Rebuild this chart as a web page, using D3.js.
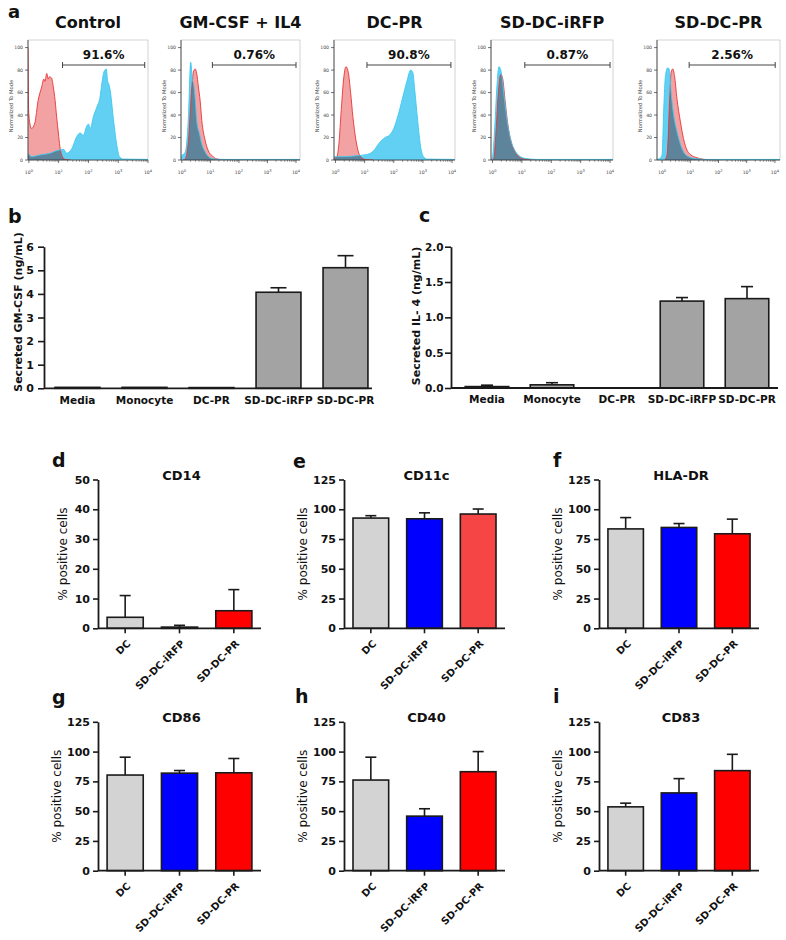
<!DOCTYPE html>
<html><head><meta charset="utf-8">
<script src="https://cdn.jsdelivr.net/npm/d3@7"></script>
<style>
body{margin:0;background:#fff}
svg text{font-family:"DejaVu Sans",Verdana,sans-serif;fill:#111}
</style>
</head><body>
<svg id="fig" width="786" height="940"></svg>
<script>
// ---------------- DATA ----------------
// Panel a: flow histograms (x = log10 fluorescence, y = % of mode)
const histTitles = ["Control", "GM-CSF + IL4", "DC-PR", "SD-DC-iRFP", "SD-DC-PR"];
const histPercents = ["91.6%", "0.76%", "90.8%", "0.87%", "2.56%"];
const gateStartLog = [1.13, 1.07, 1.08, 1.10, 0.96];
const gateEndLog = [3.89, 4.0, 3.96, 4.0, 4.01];
const histYTicks = [0, 20, 40, 60, 80, 100];
const histDecades = [0, 1, 2, 3, 4];

const redControl = [[-0.03,100],[-0.01,45],[0.03,33],[0.09,28],[0.2,33],[0.31,53],[0.43,65],[0.5,72],[0.54,70],[0.6,77],[0.65,72],[0.69,74],[0.76,73],[0.82,65],[0.88,53],[0.93,39],[0.99,24],[1.04,12],[1.10,4.5],[1.21,0.5],[1.4,0]];
const blueControl = [[-0.03,6],[0.09,3],[0.37,4.5],[0.71,6],[0.9,8],[1.04,9],[1.16,9.5],[1.27,6],[1.44,10],[1.61,21],[1.72,24],[1.83,22],[1.94,30],[2.0,32],[2.06,28],[2.17,39],[2.28,47],[2.39,56],[2.45,68],[2.53,79],[2.6,81],[2.64,71],[2.69,67],[2.73,62],[2.84,36],[2.96,12],[3.04,3],[3.18,0.8],[4.1,0.5]];
const redGM = [[0.05,0],[0.12,1],[0.23,17],[0.35,65],[0.41,79],[0.47,81],[0.52,77],[0.58,65],[0.64,53],[0.70,35],[0.82,17],[0.93,8],[1.05,4],[1.22,1],[1.4,0.3],[4.14,0.3]];
const blueGM = [[-0.03,3],[0.0,4],[0.12,7],[0.23,38],[0.31,87],[0.37,71],[0.41,68],[0.47,53],[0.52,35],[0.62,23],[0.7,14],[0.82,7],[0.93,3],[1.11,1],[1.57,0.5],[4.14,0.5]];
const redDCPR = [[-0.05,1],[0.05,3],[0.12,15],[0.2,45],[0.28,72],[0.36,83],[0.44,78],[0.52,60],[0.6,38],[0.7,18],[0.8,6],[0.9,2],[1.05,0.3],[1.3,0]];
const blueDCPR = [[-0.05,3],[0.3,3],[0.8,4],[1.1,5],[1.3,8],[1.5,15],[1.7,20],[1.85,22],[2.0,28],[2.15,40],[2.3,55],[2.45,70],[2.58,80],[2.65,78],[2.72,62],[2.82,35],[2.92,12],[3.02,3],[3.15,0.8],[4.1,0.5]];
const redIRFP = [[0.0,0],[0.05,2],[0.12,25],[0.2,60],[0.28,76],[0.35,72],[0.42,55],[0.52,32],[0.65,15],[0.8,6],[0.95,2],[1.2,0.5],[1.5,0]];
const blueIRFP = [[-0.05,1],[0.0,3],[0.08,30],[0.15,65],[0.22,83],[0.3,78],[0.38,60],[0.48,38],[0.6,20],[0.75,9],[0.9,4],[1.1,1.5],[1.5,0.5],[4.1,0.5]];
const redPR = [[0.1,0],[0.18,5],[0.27,54],[0.32,78],[0.38,81],[0.44,75],[0.53,54],[0.65,34],[0.76,19],[0.88,9],[1.0,5],[1.24,2],[1.59,0.3],[2.0,0]];
const bluePR = [[-0.18,0.5],[-0.05,2],[0.0,5],[0.06,46],[0.12,75],[0.2,82],[0.26,80],[0.32,60],[0.41,40],[0.53,25],[0.65,14],[0.82,5],[1.12,1.5],[1.59,0.5],[4.18,0.5]];
const redCurves = [redControl, redGM, redDCPR, redIRFP, redPR];
const blueCurves = [blueControl, blueGM, blueDCPR, blueIRFP, bluePR];

// Panels b, c: secreted cytokines
const secretionGroups = ["Media", "Monocyte", "DC-PR", "SD-DC-iRFP", "SD-DC-PR"];
const gmcsfMeans = [0.04, 0.04, 0.03, 4.07, 5.11];
const gmcsfErrors = [0, 0, 0, 0.19, 0.51];
const gmcsfTicks = [0, 1, 2, 3, 4, 5, 6];
const il4Means = [0.02, 0.045, 0, 1.23, 1.265];
const il4Errors = [0.02, 0.03, 0, 0.05, 0.17];
const il4Ticks = [0, 0.5, 1.0, 1.5, 2.0];

// Panels d-i: surface markers
const dcGroups = ["DC", "SD-DC-iRFP", "SD-DC-PR"];
const markerNames = ["CD14", "CD11c", "HLA-DR", "CD86", "CD40", "CD83"];
const cd14Means = [3.7, 0.4, 5.9],   cd14Errors = [7.3, 0.6, 7.1];
const cd11cMeans = [92.6, 92.0, 96.0], cd11cErrors = [2.0, 5.0, 4.2];
const hladrMeans = [83.5, 84.7, 79.4], hladrErrors = [9.5, 3.3, 12.3];
const cd86Means = [80.3, 81.9, 82.2], cd86Errors = [15.0, 2.2, 12.0];
const cd40Means = [76.1, 45.8, 83.1], cd40Errors = [19.2, 6.2, 16.9];
const cd83Means = [53.6, 65.3, 84.0], cd83Errors = [3.1, 12.0, 13.7];
const cd14Ticks = [0, 10, 20, 30, 40, 50];
const percentTicks = [0, 25, 50, 75, 100, 125];
const markerMeans = [cd14Means, cd11cMeans, hladrMeans, cd86Means, cd40Means, cd83Means];
const markerErrors = [cd14Errors, cd11cErrors, hladrErrors, cd86Errors, cd40Errors, cd83Errors];
const markerTicks = [cd14Ticks, percentTicks, percentTicks, percentTicks, percentTicks, percentTicks];

// ---------------- DRAWING ----------------
const svg = d3.select("#fig");
const FONT = '"DejaVu Sans",Verdana,sans-serif';

function letter(t, x, y, size) {
  svg.append("text").attr("x", x).attr("y", y).attr("font-size", size || 19).attr("font-weight", "bold").text(t);
}

// ---- Panel a ----
const histLayout = {
  left: [28, 181, 334, 491, 657],
  right: [148, 300, 455, 613, 780],
  xDomain: [[-0.03, 4.0], [-0.03, 4.14], [-0.05, 4.1], [-0.05, 4.1], [-0.18, 4.18]],
  top: 40, bottom: 160, y100: 47.6
};
letter("a", 8, 18, 18);

histTitles.forEach((title, i) => {
  const L = histLayout;
  const left = L.left[i], right = L.right[i];
  const x = d3.scaleLinear().domain(L.xDomain[i]).range([left, right]);
  const y = d3.scaleLinear().domain([0, 100]).range([L.bottom, L.y100]);
  const g = svg.append("g");

  g.append("text").attr("x", (left + right) / 2).attr("y", 28).attr("text-anchor", "middle")
    .attr("font-size", 16).attr("font-weight", "bold").text(title);

  g.append("rect").attr("x", left).attr("y", L.top).attr("width", right - left).attr("height", L.bottom - L.top)
    .attr("fill", "none").attr("stroke", "#c8c8c8").attr("stroke-width", 0.8);

  const cid = "hclip" + i;
  svg.append("clipPath").attr("id", cid).append("rect")
    .attr("x", left).attr("y", L.top).attr("width", right - left).attr("height", L.bottom - L.top);

  const area = d3.area().x(d => x(d[0])).y0(y(0)).y1(d => y(d[1])).curve(d3.curveMonotoneX);
  const line = d3.line().x(d => x(d[0])).y(d => y(d[1])).curve(d3.curveMonotoneX);
  const pg = g.append("g").attr("clip-path", `url(#${cid})`).style("isolation", "isolate");
  pg.append("path").datum(redCurves[i]).attr("d", area).attr("fill", "#f2a2a2");
  pg.append("path").datum(blueCurves[i]).attr("d", area).attr("fill", "#62d0f2").style("mix-blend-mode", "multiply");
  pg.append("path").datum(redCurves[i]).attr("d", line).attr("fill", "none").attr("stroke", "#ea3434").attr("stroke-width", 0.9);
  pg.append("path").datum(blueCurves[i]).attr("d", line).attr("fill", "none").attr("stroke", "#3cc8ef").attr("stroke-width", 0.9);

  g.append("line").attr("x1", left).attr("x2", left).attr("y1", L.top).attr("y2", L.bottom).attr("stroke", "#333").attr("stroke-width", 0.8);
  g.append("line").attr("x1", left).attr("x2", right).attr("y1", L.bottom).attr("y2", L.bottom).attr("stroke", "#333").attr("stroke-width", 0.8);
  histYTicks.forEach(v => {
    g.append("line").attr("x1", left - 3).attr("x2", left).attr("y1", y(v)).attr("y2", y(v)).attr("stroke", "#333").attr("stroke-width", 0.7);
    g.append("text").attr("x", left - 5).attr("y", y(v) + 1.6).attr("text-anchor", "end")
      .attr("font-size", 4.6).style("fill", "#444").text(v);
  });
  histDecades.forEach(d => {
    if (x(d) <= right + 0.5) {
      g.append("line").attr("x1", x(d)).attr("x2", x(d)).attr("y1", L.bottom).attr("y2", L.bottom + 3).attr("stroke", "#333").attr("stroke-width", 0.7);
      const t = g.append("text").attr("x", x(d)).attr("y", L.bottom + 14).attr("text-anchor", "middle")
        .attr("font-size", 4.6).style("fill", "#444");
      t.append("tspan").text("10");
      t.append("tspan").attr("dy", -2.5).attr("font-size", 3.6).text(d);
    }
    if (d < 4) {
      for (let k = 2; k <= 9; k++) {
        const v = d + Math.log10(k);
        g.append("line").attr("x1", x(v)).attr("x2", x(v)).attr("y1", L.bottom).attr("y2", L.bottom + 1.8).attr("stroke", "#333").attr("stroke-width", 0.5);
      }
    }
  });
  g.append("text").attr("transform", `translate(${left - 15},${(L.top + L.bottom) / 2 + 6}) rotate(-90)`)
    .attr("text-anchor", "middle").attr("font-size", 5.2).style("fill", "#444").text("Normalized To Mode");

  const gy = 65, gx1 = x(gateStartLog[i]), gx2 = x(gateEndLog[i]);
  g.append("line").attr("x1", gx1).attr("x2", gx2).attr("y1", gy).attr("y2", gy).attr("stroke", "#444").attr("stroke-width", 1);
  [gx1, gx2].forEach(xx => g.append("line").attr("x1", xx).attr("x2", xx).attr("y1", gy - 3).attr("y2", gy + 3).attr("stroke", "#444").attr("stroke-width", 1));
  g.append("text").attr("x", (gx1 + gx2) / 2).attr("y", 58.5).attr("text-anchor", "middle")
    .attr("font-size", 12).attr("font-weight", "bold").text(histPercents[i]);
});

// ---- Panels b, c ----
function secretionPanel(o) {
  const g = svg.append("g");
  const x = d3.scaleBand().domain(secretionGroups).range([o.x0, o.x1]).paddingInner(0.33).paddingOuter(0.165);
  const y = d3.scaleLinear().domain([0, o.yMax]).range([o.yBottom, o.yTop]);
  const bw = x.bandwidth();
  secretionGroups.forEach((c, i) => {
    const v = o.means[i], e = o.errors[i];
    const cx = x(c) + bw / 2;
    if (e > 0) {
      g.append("line").attr("x1", cx).attr("x2", cx).attr("y1", y(v)).attr("y2", y(v + e)).attr("stroke", "#1a1a1a").attr("stroke-width", 1.6);
      g.append("line").attr("x1", cx - o.cap / 2).attr("x2", cx + o.cap / 2).attr("y1", y(v + e)).attr("y2", y(v + e)).attr("stroke", "#1a1a1a").attr("stroke-width", 1.6);
    }
    if (v > 0) {
      g.append("rect").attr("x", x(c)).attr("y", y(v)).attr("width", bw).attr("height", y(0) - y(v))
        .attr("fill", "#a3a3a3").attr("stroke", "#1a1a1a").attr("stroke-width", 1.6);
    }
  });
  const ya = g.append("g").attr("transform", `translate(${o.axisX},0)`)
    .call(d3.axisLeft(y).tickValues(o.ticks).tickFormat(o.fmt).tickSize(6).tickSizeOuter(0).tickPadding(o.pad));
  ya.select(".domain").attr("stroke", "#1a1a1a").attr("stroke-width", 1.8);
  ya.selectAll(".tick line").attr("stroke", "#1a1a1a").attr("stroke-width", 1.6);
  ya.selectAll(".tick text").attr("font-size", o.tickFont).attr("font-weight", "bold").style("font-family", FONT).style("fill", "#111");
  g.append("line").attr("x1", o.axisX).attr("x2", o.axisEnd).attr("y1", y(0)).attr("y2", y(0)).attr("stroke", "#1a1a1a").attr("stroke-width", 1.8);
  const xa = g.append("g").attr("transform", `translate(0,${y(0)})`)
    .call(d3.axisBottom(x).tickSize(0).tickPadding(8));
  xa.select(".domain").remove();
  xa.selectAll(".tick text").attr("font-size", 10.5).attr("font-weight", "bold").style("font-family", FONT).style("fill", "#111");
  g.append("text").attr("transform", `translate(${o.labelX},${o.labelY}) rotate(-90)`).attr("text-anchor", "middle")
    .attr("font-size", 11).attr("font-weight", "bold").text(o.label);
}
letter("b", 8, 223);
secretionPanel({ means: gmcsfMeans, errors: gmcsfErrors, ticks: gmcsfTicks, fmt: d3.format("d"), yMax: 6,
  x0: 44, x1: 379, axisX: 44, axisEnd: 372, yTop: 246.7, yBottom: 388.3, cap: 16, pad: 4, tickFont: 11,
  label: "Secreted GM-CSF (ng/mL)", labelX: 22, labelY: 312 });
letter("c", 419, 222);
secretionPanel({ means: il4Means, errors: il4Errors, ticks: il4Ticks, fmt: d3.format(".1f"), yMax: 2,
  x0: 454.5, x1: 779.5, axisX: 451, axisEnd: 778, yTop: 246.7, yBottom: 388, cap: 12, pad: 1.5, tickFont: 10.5,
  label: "Secreted IL- 4 (ng/mL)", labelX: 420, labelY: 316 });

// ---- Panels d - i ----
const markerLetters = ["d", "e", "f", "g", "h", "i"];
const colStart = [98, 344, 599], colEnd = [261, 505, 759];
const rowTop = [479.5, 721.8], rowBottom = [628.3, 870.7];
const letterPos = [[52, 467], [293, 468], [553, 467], [52, 704], [295, 703], [553, 703]];
const groupColors = [
  ["#d3d3d3", "#0000ff", "#ff0000"], ["#d3d3d3", "#0000ff", "#f54545"], ["#d3d3d3", "#0000ff", "#ff0000"],
  ["#d3d3d3", "#0000ff", "#ff0000"], ["#d3d3d3", "#0000ff", "#ff0000"], ["#d3d3d3", "#0000ff", "#ff0000"]];

markerNames.forEach((name, p) => {
  const col = p % 3, row = Math.floor(p / 3);
  const x0 = colStart[col], x1 = colEnd[col], yT = rowTop[row], yB = rowBottom[row];
  const ticks = markerTicks[p];
  const yMax = ticks[ticks.length - 1];
  const x = d3.scaleBand().domain(dcGroups).range([x0, x1]).paddingInner(0.335).paddingOuter(0.1675);
  const y = d3.scaleLinear().domain([0, yMax]).range([yB, yT]);
  const bw = x.bandwidth();
  const g = svg.append("g");
  letter(markerLetters[p], letterPos[p][0], letterPos[p][1]);

  dcGroups.forEach((c, i) => {
    const v = markerMeans[p][i], e = markerErrors[p][i];
    const cx = x(c) + bw / 2;
    g.append("line").attr("x1", cx).attr("x2", cx).attr("y1", y(v)).attr("y2", y(v + e)).attr("stroke", "#1a1a1a").attr("stroke-width", 1.6);
    g.append("line").attr("x1", cx - 5.5).attr("x2", cx + 5.5).attr("y1", y(v + e)).attr("y2", y(v + e)).attr("stroke", "#1a1a1a").attr("stroke-width", 1.6);
    g.append("rect").attr("x", x(c)).attr("y", y(v)).attr("width", bw).attr("height", y(0) - y(v))
      .attr("fill", groupColors[p][i]).attr("stroke", "#1a1a1a").attr("stroke-width", 1.6);
  });

  const ya = g.append("g").attr("transform", `translate(${x0},0)`)
    .call(d3.axisLeft(y).tickValues(ticks).tickSize(5).tickSizeOuter(0).tickPadding(3));
  ya.select(".domain").attr("stroke", "#1a1a1a").attr("stroke-width", 1.8);
  ya.selectAll(".tick line").attr("stroke", "#1a1a1a").attr("stroke-width", 1.6);
  ya.selectAll(".tick text").attr("font-size", 11).attr("font-weight", "bold").style("font-family", FONT).style("fill", "#111");

  g.append("line").attr("x1", x0).attr("x2", x1).attr("y1", yB).attr("y2", yB).attr("stroke", "#1a1a1a").attr("stroke-width", 1.8);
  dcGroups.forEach(c => {
    const cx = x(c) + bw / 2;
    g.append("line").attr("x1", cx).attr("x2", cx).attr("y1", yB).attr("y2", yB + 5).attr("stroke", "#1a1a1a").attr("stroke-width", 1.6);
    g.append("text").attr("transform", `translate(${cx + 6},${yB + 16}) rotate(-45)`).attr("text-anchor", "end")
      .attr("font-size", 10).attr("font-weight", "bold").text(c);
  });

  g.append("text").attr("x", (x0 + x1) / 2 + 2).attr("y", yT + 0.5).attr("text-anchor", "middle")
    .attr("font-size", 13).attr("font-weight", "bold").text(name);
  const off = yMax >= 100 ? 37 : 31;
  g.append("text").attr("transform", `translate(${x0 - off},${(yT + yB) / 2}) rotate(-90)`).attr("text-anchor", "middle")
    .attr("font-size", 12).text("% positive cells");
});
</script>
</body></html>
